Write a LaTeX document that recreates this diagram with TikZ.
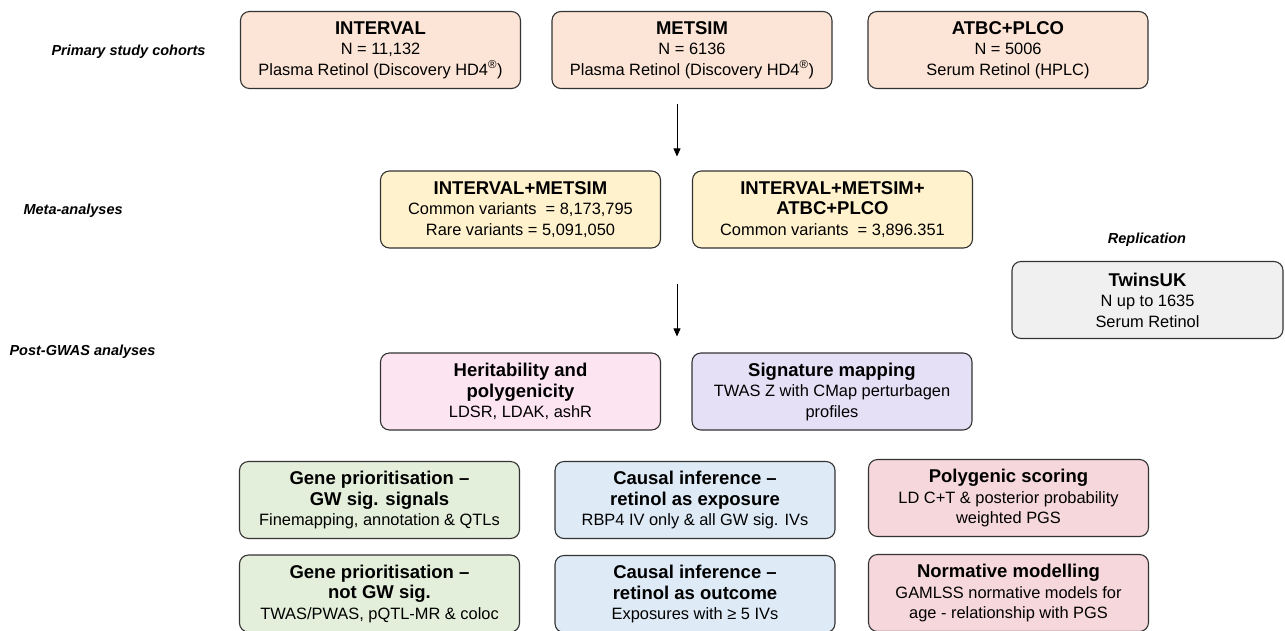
\documentclass[tikz,border=0pt]{standalone}
\usepackage{fontspec}
\setmainfont{Liberation Sans}
\usetikzlibrary{arrows.meta}

\definecolor{cohortfill}{HTML}{FCE5D6}
\definecolor{metafill}{HTML}{FFF2CC}
\definecolor{replfill}{HTML}{F0F0F0}
\definecolor{heritfill}{HTML}{FCE4F1}
\definecolor{sigfill}{HTML}{E5E0F6}
\definecolor{genefill}{HTML}{E3EFDA}
\definecolor{causalfill}{HTML}{DEEAF6}
\definecolor{scorefill}{HTML}{F5D7DC}

\newcommand{\hd}[1]{{\fontsize{18.5}{20.5}\selectfont\bfseries #1}}

\begin{document}
\begin{tikzpicture}[
    x=1pt, y=-1pt,
    box/.style={rectangle, draw=black!80, line width=1.1pt, rounded corners=9pt, minimum width=280pt, minimum height=77pt, inner sep=2pt, align=center, font=\fontsize{16.4}{20.5}\selectfont},
    stagelabel/.style={font=\fontsize{14.5}{17}\selectfont\bfseries\itshape},
    arrow/.style={line width=0.8pt, -{Triangle[length=8pt, width=7pt]}}
]

\path[fill=white, use as bounding box] (0,0) rectangle (1285,630);

% Stage labels
\node [stagelabel, anchor=west] (lblcohort) at (48,52) {Primary study cohorts};
\node [stagelabel, anchor=west] (lblmeta) at (20,211) {Meta-analyses};
\node [stagelabel, anchor=west] (lblpost) at (6,352) {Post-GWAS analyses};
\node [stagelabel] (lblrepl) at (1147,240) {Replication};

% Primary study cohorts
\node [box, fill=cohortfill] (interval) at (380.5,50) {\hd{INTERVAL}\\N = 11,132\\Plasma Retinol (Discovery HD4\textsuperscript{®})};
\node [box, fill=cohortfill] (metsim) at (692,50) {\hd{METSIM}\\N = 6136\\Plasma Retinol (Discovery HD4\textsuperscript{®})};
\node [box, fill=cohortfill] (atbc) at (1008,50) {\hd{ATBC+PLCO}\\N = 5006\\Serum Retinol (HPLC)};

% Meta-analyses
\node [box, fill=metafill] (metatwo) at (520.5,209.5) {\hd{INTERVAL+METSIM}\\Common variants\ \ = 8,173,795\\Rare variants = 5,091,050};
\node [box, fill=metafill] (metaall) at (832.5,209.5) {\hd{INTERVAL+METSIM+}\\\hd{ATBC+PLCO}\\Common variants\ \ = 3,896.351};

% Replication
\node [box, fill=replfill, minimum width=271pt] (twins) at (1147.5,300) {\hd{TwinsUK}\\N up to 1635\\Serum Retinol};

% Post-GWAS analyses
\node [box, fill=heritfill] (herit) at (520.5,391.5) {\hd{Heritability and}\\\hd{polygenicity}\\LDSR, LDAK, ashR};
\node [box, fill=sigfill] (sigmap) at (832,391.5) {\hd{Signature mapping}\\TWAS Z with CMap perturbagen\\profiles};

\node [box, fill=genefill] (genegw) at (379.5,500) {\hd{Gene prioritisation --}\\\hd{GW sig. signals}\\Finemapping, annotation \& QTLs};
\node [box, fill=causalfill] (causalexp) at (695,500) {\hd{Causal inference --}\\\hd{retinol as exposure}\\RBP4 IV only \& all GW sig. IVs};
\node [box, fill=scorefill] (pgs) at (1008.5,498) {\hd{Polygenic scoring}\\LD C+T \& posterior probability\\weighted PGS};

\node [box, fill=genefill] (genenot) at (379.5,593.5) {\hd{Gene prioritisation --}\\\hd{not GW sig.}\\TWAS/PWAS, pQTL-MR \& coloc};
\node [box, fill=causalfill] (causalout) at (695,594) {\hd{Causal inference --}\\\hd{retinol as outcome}\\Exposures with ≥ 5 IVs};
\node [box, fill=scorefill] (normative) at (1008.5,593) {\hd{Normative modelling}\\GAMLSS normative models for\\age - relationship with PGS};

% Flow arrows
\coordinate (flow) at (677,0);
\draw [arrow, shorten <=15pt, shorten >=14pt] (flow |- metsim.south) -- (flow |- metaall.north);
\draw [arrow, shorten <=35pt, shorten >=16pt] (flow |- metaall.south) -- (flow |- sigmap.north);

\end{tikzpicture}
\end{document}
